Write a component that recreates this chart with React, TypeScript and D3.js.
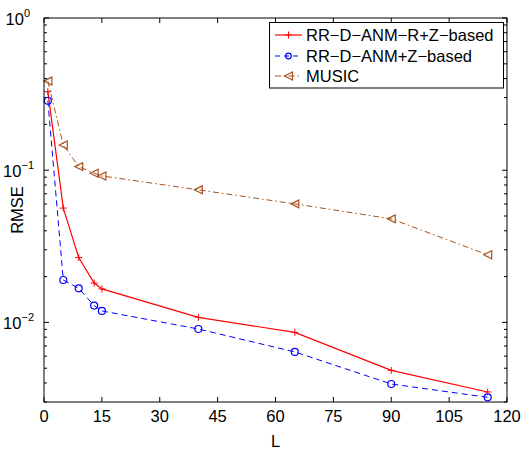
import React from "react";
import * as d3 from "d3";

const Lvals = [1, 5, 9, 13, 15, 40, 65, 90, 115];
const rrR = [0.328, 0.0564, 0.0267, 0.01815, 0.0166, 0.0108, 0.0086, 0.00484, 0.00349];
const rrZ = [0.286, 0.019, 0.01675, 0.0129, 0.0119, 0.00905, 0.0064, 0.00394, 0.00322];
const music = [0.385, 0.1466, 0.1056, 0.0956, 0.0917, 0.0743, 0.0601, 0.0479, 0.0278];
const seriesNames = ["RR\u2212D\u2212ANM\u2212R+Z\u2212based", "RR\u2212D\u2212ANM+Z\u2212based", "MUSIC"];
const xTicks = [0, 15, 30, 45, 60, 75, 90, 105, 120];
const yTickExps = [0, -1, -2];

const W = 527, H = 450;
const M = { left: 44, right: 507, top: 18, bottom: 402 };
const FONT = "'Liberation Sans', Arial, Helvetica, sans-serif";
const FS = 16.5;
const RED = "#ff0000", BLUE = "#0000ff", BROWN = "#a8521e";

export default function App() {
  const x = d3.scaleLinear().domain([0, 120]).range([M.left, M.right]);
  const y = d3.scaleLog().domain([0.003, 1]).range([M.bottom, M.top]);
  const line = d3.line<[number, number]>().x(d => x(d[0])).y(d => y(d[1]));
  const pts = (vals: number[]) => Lvals.map((l, i) => [l, vals[i]] as [number, number]);

  const minor: number[] = [];
  for (let e = -3; e < 0; e++) for (let k = 2; k <= 9; k++) {
    const v = k * Math.pow(10, e);
    if (v >= 0.003 && v <= 1) minor.push(v);
  }
  const ax = "#000";

  const plus = (cx: number, cy: number, c: string, key: any, s = 3.5) => (
    <g key={key} stroke={c} strokeWidth={1}>
      <line x1={cx - s} x2={cx + s} y1={cy} y2={cy} />
      <line x1={cx} x2={cx} y1={cy - s} y2={cy + s} />
    </g>
  );
  const circ = (cx: number, cy: number, c: string, key: any, r = 3.5) => (
    <circle key={key} cx={cx} cy={cy} r={r} fill="none" stroke={c} strokeWidth={1.2} />
  );
  const tri = (cx: number, cy: number, c: string, key: any, s = 4) => (
    <path key={key} d={`M${cx - s},${cy} L${cx + s},${cy - s} L${cx + s},${cy + s} Z`} fill="none" stroke={c} strokeWidth={1.2} />
  );

  const legX = 269.5, legY = 22.5, legW = 234, legH = 65.5;
  const rows = [35, 56, 76];

  return (
    <svg width={W} height={H} style={{ position: "absolute", left: 0, top: 0, background: "#fff" }} fontFamily={FONT}>
      <rect x={0} y={0} width={W} height={H} fill="#fff" />
      {/* ticks */}
      {xTicks.map(t => (
        <g key={"xt" + t}>
          <line x1={x(t)} x2={x(t)} y1={M.bottom} y2={M.bottom - 5} stroke={ax} />
          <line x1={x(t)} x2={x(t)} y1={M.top} y2={M.top + 5} stroke={ax} />
          <text x={x(t)} y={422} fontSize={FS} textAnchor="middle">{t}</text>
        </g>
      ))}
      {yTickExps.map(e => (
        <g key={"yt" + e}>
          <line x1={M.left} x2={M.left + 5} y1={y(Math.pow(10, e))} y2={y(Math.pow(10, e))} stroke={ax} />
          <line x1={M.right} x2={M.right - 5} y1={y(Math.pow(10, e))} y2={y(Math.pow(10, e))} stroke={ax} />
          <text x={e === 0 ? 30 : 34} y={y(Math.pow(10, e)) + 7} fontSize={FS} textAnchor="end">
            10<tspan dy={-8} fontSize={11}>{e === 0 ? "0" : "\u2212" + (-e)}</tspan>
          </text>
        </g>
      ))}
      {minor.map((v, i) => (
        <g key={"mn" + i}>
          <line x1={M.left} x2={M.left + 3} y1={y(v)} y2={y(v)} stroke={ax} />
          <line x1={M.right} x2={M.right - 3} y1={y(v)} y2={y(v)} stroke={ax} />
        </g>
      ))}
      {/* series */}
      <path d={line(pts(music))!} fill="none" stroke={BROWN} strokeWidth={1} strokeDasharray="6,3,1.5,3" />
      <path d={line(pts(rrZ))!} fill="none" stroke={BLUE} strokeWidth={1} strokeDasharray="6,4" />
      <path d={line(pts(rrR))!} fill="none" stroke={RED} strokeWidth={1.2} />
      {pts(music).map((p, i) => tri(x(p[0]), y(p[1]), BROWN, "m" + i))}
      {pts(rrZ).map((p, i) => circ(x(p[0]), y(p[1]), BLUE, "b" + i))}
      {pts(rrR).map((p, i) => plus(x(p[0]), y(p[1]), RED, "r" + i))}
      {/* frame */}
      <rect x={M.left} y={M.top} width={M.right - M.left} height={M.bottom - M.top} fill="none" stroke={ax} strokeWidth={1} />
      {/* legend */}
      <rect x={legX} y={legY} width={legW} height={legH} fill="#fff" stroke={ax} strokeWidth={1} />
      <line x1={275} x2={302} y1={rows[0]} y2={rows[0]} stroke={RED} strokeWidth={1.2} />
      {plus(288.5, rows[0], RED, "lp")}
      <line x1={275} x2={302} y1={rows[1]} y2={rows[1]} stroke={BLUE} strokeWidth={1} strokeDasharray="5,4" />
      {circ(288.5, rows[1], BLUE, "lc", 2.8)}
      <line x1={275} x2={302} y1={rows[2]} y2={rows[2]} stroke={BROWN} strokeWidth={1} strokeDasharray="6,3,1.5,3" />
      {tri(288.5, rows[2], BROWN, "lt")}
      {seriesNames.map((n, i) => (
        <text key={"ln" + i} x={306} y={rows[i] + 6} fontSize={FS}>{n}</text>
      ))}
      {/* axis labels */}
      <text x={(M.left + M.right) / 2} y={447} fontSize={FS} textAnchor="middle">L</text>
      <text transform={`translate(23,${(M.top + M.bottom) / 2}) rotate(-90)`} fontSize={FS} textAnchor="middle">RMSE</text>
    </svg>
  );
}
